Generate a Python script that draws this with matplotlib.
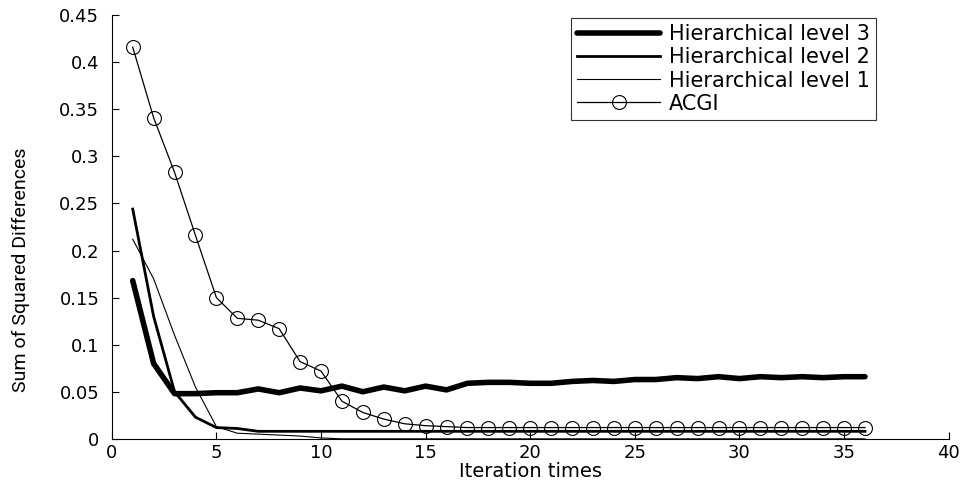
import matplotlib
matplotlib.use("Agg")
import matplotlib.pyplot as plt
import numpy as np

iters = list(range(1, 37))
level3 = [0.168, 0.080, 0.048, 0.048, 0.049, 0.049, 0.053, 0.049, 0.054, 0.051,
          0.056, 0.050, 0.055, 0.051, 0.056, 0.052, 0.059, 0.060, 0.060, 0.059,
          0.059, 0.061, 0.062, 0.061, 0.063, 0.063, 0.065, 0.064, 0.066, 0.064,
          0.066, 0.065, 0.066, 0.065, 0.066, 0.066]
level2 = [0.244, 0.130, 0.050, 0.023, 0.012, 0.011, 0.008, 0.008, 0.008, 0.008,
          0.008, 0.008, 0.008, 0.008, 0.008, 0.008, 0.008, 0.008, 0.008, 0.008,
          0.008, 0.008, 0.008, 0.008, 0.008, 0.008, 0.008, 0.008, 0.008, 0.008,
          0.008, 0.008, 0.008, 0.008, 0.008, 0.008]
level1 = [0.212, 0.170, 0.110, 0.055, 0.013, 0.006, 0.005, 0.004, 0.003, 0.001,
          0.000, 0.000, 0.000, 0.000, 0.000, 0.000, 0.000, 0.000, 0.000, 0.000,
          0.000, 0.000, 0.000, 0.000, 0.000, 0.000, 0.000, 0.000, 0.000, 0.000,
          0.000, 0.000, 0.000, 0.000, 0.000, 0.000]
acgi = [0.416, 0.341, 0.283, 0.216, 0.150, 0.128, 0.126, 0.117, 0.082, 0.072,
        0.040, 0.028, 0.021, 0.016, 0.014, 0.013, 0.012, 0.012, 0.012, 0.012,
        0.012, 0.012, 0.012, 0.012, 0.012, 0.012, 0.012, 0.012, 0.012, 0.012,
        0.012, 0.012, 0.012, 0.012, 0.012, 0.012]

xticks = [0, 5, 10, 15, 20, 25, 30, 35, 40]
yticks = [0, 0.05, 0.1, 0.15, 0.2, 0.25, 0.3, 0.35, 0.4, 0.45]
yticklabels = ["0", "0.05", "0.1", "0.15", "0.2", "0.25", "0.3", "0.35", "0.4", "0.45"]

plt.rcParams['font.family'] = ['DejaVu Sans']

fig = plt.figure(figsize=(9.72, 4.86), dpi=100)
ax = fig.add_axes([0.115, 0.097, 0.861, 0.872])

ax.plot(iters, level3, color='black', lw=4.0, solid_capstyle='round', label='Hierarchical level 3')
ax.plot(iters, level2, color='black', lw=2.0, label='Hierarchical level 2')
ax.plot(iters, level1, color='black', lw=0.8, label='Hierarchical level 1')
ax.plot(iters, acgi, color='black', lw=0.9, marker='o', markersize=10,
        markerfacecolor='none', markeredgewidth=0.8, label='ACGI')

ax.set_xlim(0, 40)
ax.set_ylim(0, 0.45)
ax.set_xticks(xticks)
ax.set_yticks(yticks)
ax.set_yticklabels(yticklabels)
ax.tick_params(direction='in', length=5, width=0.8, labelsize=13)
ax.tick_params(axis='y', pad=9)
ax.tick_params(axis='x', pad=4)
ax.spines['top'].set_visible(False)
ax.spines['right'].set_visible(False)
ax.set_xlabel('Iteration times', fontsize=14, labelpad=0)
ax.set_ylabel('Sum of Squared Differences', fontsize=14,
              family=['Roboto', 'DejaVu Sans'])
ax.yaxis.set_label_coords(-0.098, 0.40)

leg = ax.legend(loc='upper right', bbox_to_anchor=(0.913, 0.993), borderaxespad=0,
                fontsize=15, frameon=True, fancybox=False, edgecolor='black',
                handlelength=4.0, borderpad=0.3, labelspacing=0.15, handletextpad=0.4)
leg.get_frame().set_linewidth(0.8)

fig.savefig('out.png', dpi=100)
